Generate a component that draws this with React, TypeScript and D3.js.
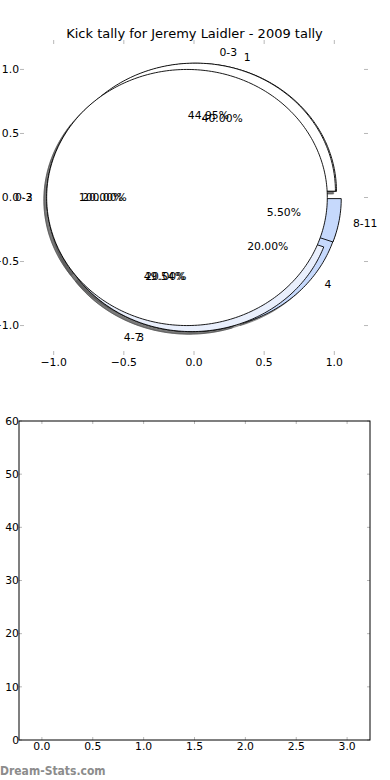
import * as d3 from "d3";
import React from "react";

const title = "Kick tally for Jeremy Laidler - 2009 tally";

// three pies stacked on the same axes, drawn in this order (last on top)
const pieBLabels = ["1", "2", "3", "4"];
const pieBValues = [40, 20, 20, 20];
const pieBColors = ["#ffffff", "#ffffff", "#dfe8fb", "#c6d9fc"];

const pieALabels = ["0-3", "4-7", "8-11"];
const pieAValues = [44.95, 49.54, 5.5];
const pieAColors = ["#ffffff", "#e9effc", "#c6d9fc"];

const pieCLabels = ["0-3"];
const pieCValues = [100];
const pieCColors = ["#ffffff"];

const pieTicks = [-1.0, -0.5, 0.0, 0.5, 1.0];
const barYTicks = [0, 10, 20, 30, 40, 50, 60];
const barXTicks = [0.0, 0.5, 1.0, 1.5, 2.0, 2.5, 3.0];

const W = 390;
const H = 780;
const explode = 0.05;
const font = "'DejaVu Sans', sans-serif";
const fs = 10.8;
const tickGray = "#b8b8b8";

const App = () => {
    // top panel (pie) scales
    const px = d3.scaleLinear().domain([-1.24, 1.24]).range([20, 368]);
    const py = d3.scaleLinear().domain([-1.23, 1.23]).range([355, 40]);

    // bottom panel (empty) scales
    const bx = d3.scaleLinear().domain([-0.225, 3.225]).range([19, 370]);
    const by = d3.scaleLinear().domain([0, 60]).range([740, 421]);

    const pies = [
        {labels: pieBLabels, values: pieBValues, colors: pieBColors},
        {labels: pieALabels, values: pieAValues, colors: pieAColors},
        {labels: pieCLabels, values: pieCValues, colors: pieCColors},
    ];

    const pieGen = d3.pie<number>().sort(null).value(d => d);
    const line = d3.line<[number, number]>().x(p => px(p[0])).y(p => py(p[1]));

    const wedgePath = (cx: number, cy: number, a0: number, a1: number) => {
        const n = Math.max(8, Math.ceil((a1 - a0) / 0.02));
        const pts: [number, number][] = [[cx, cy]];
        d3.range(n + 1).forEach(i => {
            const a = a0 + (a1 - a0) * i / n;
            pts.push([cx + Math.cos(a), cy + Math.sin(a)]);
        });
        if (a1 - a0 < 2 * Math.PI - 1e-6) pts.push([cx, cy]);
        else pts.shift();
        return line(pts) + "Z";
    };

    const wedges = pies.map((p, pi) => pieGen(p.values).map((d, i) => {
        const mid = (d.startAngle + d.endAngle) / 2;
        const cx = explode * Math.cos(mid);
        const cy = explode * Math.sin(mid);
        const lx = cx + 1.1 * Math.cos(mid);
        const ly = cy + 1.1 * Math.sin(mid);
        return {
            key: `${pi}-${i}`,
            d: wedgePath(cx, cy, d.startAngle, d.endAngle),
            shadow: wedgePath(cx - 0.02, cy - 0.02, d.startAngle, d.endAngle),
            color: p.colors[i % p.colors.length],
            label: p.labels[i],
            lx, ly,
            tx: cx + 0.6 * Math.cos(mid),
            ty: cy + 0.6 * Math.sin(mid),
            pct: d3.format(".2f")(p.values[i] / d3.sum(p.values) * 100) + "%",
        };
    }));

    const fmt1 = d3.format(".1f");

    return (
        <svg width={W} height={H} style={{position: "absolute", left: 0, top: 0, background: "#fff"}}
             fontFamily={font}>
            <rect width={W} height={H} fill="#fff"/>
            <text x={194.5} y={37.5} fontSize={13} textAnchor="middle" fill="#000">{title}</text>

            {/* pie panel ticks (no spines) */}
            {pieTicks.map(t => (
                <g key={"pt" + t} stroke={tickGray} strokeWidth={1}>
                    <line x1={px(t)} x2={px(t)} y1={40} y2={44}/>
                    <line x1={px(t)} x2={px(t)} y1={355} y2={351}/>
                    <line x1={20} x2={24} y1={py(t)} y2={py(t)}/>
                    <line x1={368} x2={364} y1={py(t)} y2={py(t)}/>
                </g>
            ))}
            {pieTicks.map(t => (
                <g key={"pl" + t} fontSize={fs} fill="#000">
                    <text x={px(t)} y={366} textAnchor="middle">{fmt1(t)}</text>
                    <text x={19} y={py(t)} dy="0.35em" textAnchor="end">{fmt1(t)}</text>
                </g>
            ))}

            {/* shadows first, then wedges */}
            {wedges.flat().map(w => (
                <path key={"s" + w.key} d={w.shadow} fill="rgb(77,77,77)" fillOpacity={0.5}
                      stroke="rgb(77,77,77)" strokeOpacity={0.5} strokeWidth={1}/>
            ))}
            {wedges.flat().map(w => (
                <path key={"w" + w.key} d={w.d} fill={w.color} stroke="#000" strokeWidth={0.9}/>
            ))}
            {wedges.flat().map(w => (
                <g key={"t" + w.key} fontSize={fs} fill="#000">
                    <text x={px(w.lx)} y={py(w.ly)} dy="0.35em" textAnchor={w.lx > 0 ? "start" : "end"}>{w.label}</text>
                    <text x={px(w.tx)} y={py(w.ty)} dy="0.35em" textAnchor="middle">{w.pct}</text>
                </g>
            ))}

            {/* bottom empty panel */}
            {barYTicks.map(t => (
                <g key={"by" + t}>
                    <line x1={19} x2={22} y1={by(t)} y2={by(t)} stroke={tickGray}/>
                    <line x1={370} x2={367} y1={by(t)} y2={by(t)} stroke={tickGray}/>
                    <text x={19} y={by(t)} dy="0.35em" fontSize={fs} textAnchor="end">{t}</text>
                </g>
            ))}
            {barXTicks.map(t => (
                <g key={"bx" + t}>
                    <line x1={bx(t)} x2={bx(t)} y1={421} y2={424} stroke={tickGray}/>
                    <line x1={bx(t)} x2={bx(t)} y1={740} y2={737} stroke={tickGray}/>
                    <text x={bx(t)} y={750} fontSize={fs} textAnchor="middle">{fmt1(t)}</text>
                </g>
            ))}
            <rect x={19} y={421} width={351} height={319} fill="none" stroke="#000" strokeWidth={1}/>

            <text x={0} y={775} fontSize={12} fill="#8c8c8c" fontWeight="bold"
                  fontFamily="'DejaVu Sans Condensed', 'DejaVu Sans', sans-serif">Dream-Stats.com</text>
        </svg>
    );
};

export default App;
